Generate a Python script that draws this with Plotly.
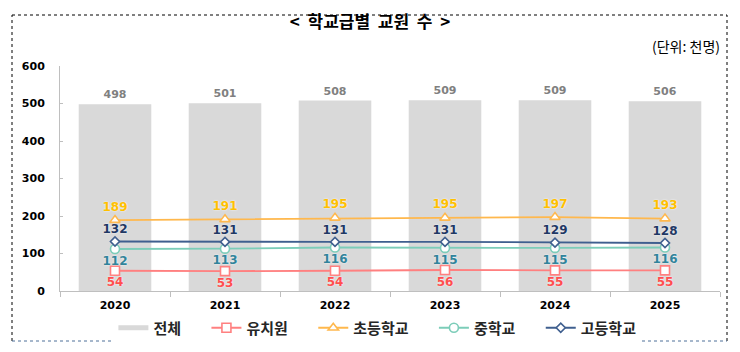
import plotly.graph_objects as go

years = ["2020", "2021", "2022", "2023", "2024", "2025"]
total = [498, 501, 508, 509, 509, 506]
kinder = [54, 53, 54, 56, 55, 55]
elem = [189, 191, 195, 195, 197, 193]
middle = [112, 113, 116, 115, 115, 116]
high = [132, 131, 131, 131, 129, 128]
y_ticks = [0, 100, 200, 300, 400, 500, 600]

FONT = "DejaVu Sans, Noto Sans CJK KR"
KFONT = "Noto Sans CJK KR"
HALO = "0px 0px 2px white"
PAD = "\u00a0" * 6

fig = go.Figure()

fig.add_trace(go.Bar(
    x=years, y=total, name="전체", showlegend=False,
    marker=dict(color="#d9d9d9", line=dict(width=0)),
    width=0.66,
    text=total, textposition="outside", cliponaxis=False,
    textfont=dict(family=FONT, size=11, color="#808080", weight="bold"),
))
# legend entry for bar (thin rectangle look)
fig.add_trace(go.Scatter(
    x=[None], y=[None], mode="lines", name="전체" + PAD,
    line=dict(color="#d9d9d9", width=5),
))

series = [
    ("유치원", kinder, "#FF8080", "#FF4F4F", "square", 9, "bottom center"),
    ("초등학교", elem, "#FFB84D", "#FFC000", "triangle-up", 9, "top center"),
    ("중학교", middle, "#7CCDB9", "#31849B", "circle", 9, "bottom center"),
    ("고등학교", high, "#3F5F8F", "#1F3864", "diamond", 7, "top center"),
]
for i, (name, vals, lc, tc, sym, ms, pos) in enumerate(series):
    fig.add_trace(go.Scatter(
        x=years, y=vals, name=name + (PAD if i < len(series) - 1 else ""),
        mode="lines+markers+text",
        line=dict(color=lc, width=1.8),
        marker=dict(symbol=sym, size=ms, color="white", line=dict(color=lc, width=1.6)),
        text=vals, textposition=pos, cliponaxis=False,
        textfont=dict(family=FONT, size=12, color=tc, weight="bold", shadow=HALO),
    ))

fig.update_layout(
    width=740, height=352,
    margin=dict(l=60, r=20, t=66, b=61, autoexpand=False),
    paper_bgcolor="white", plot_bgcolor="white",
    font=dict(family=FONT, color="#262626"),
    title=dict(text="<  학교급별  교원  수  >", x=0.5, xanchor="center",
               y=1 - 22 / 352, yanchor="middle",
               font=dict(family=KFONT, size=17, color="black", weight="bold")),
    showlegend=True,
    legend=dict(orientation="h", x=0.51, xanchor="center", xref="container",
                y=1 - 328 / 352, yanchor="middle", yref="container",
                font=dict(family=KFONT, size=15, color="#262626", weight="bold"),
                itemwidth=30, tracegroupgap=0),
    bargap=0.34,
)

fig.update_xaxes(
    type="category", showgrid=False, showline=True, linecolor="#bfbfbf", linewidth=1,
    ticks="outside", tickson="boundaries", ticklen=5, tickcolor="#bfbfbf",
    tickfont=dict(family=FONT, size=11, color="black", weight="bold"),
    ticklabelstandoff=4,
)
fig.update_yaxes(
    range=[0, 600], tickvals=y_ticks, showgrid=False, zeroline=False,
    showline=True, linecolor="#bfbfbf", linewidth=1,
    ticks="inside", ticklen=3, tickcolor="#bfbfbf",
    tickfont=dict(family=FONT, size=11, color="black", weight="bold"),
    ticklabelstandoff=12,
)

fig.add_annotation(text="(단위: 천명)", xref="paper", yref="paper",
                   x=(722 - 60) / 660, y=(291 - 46) / 225, xanchor="right", yanchor="middle",
                   showarrow=False,
                   font=dict(family=KFONT, size=14, color="black"))

# dotted frame
x0, x1 = (12 - 60) / 660, (727 - 60) / 660
y0, y1 = (291 - 341) / 225, (291 - 15) / 225
for (ax0, ay0, ax1, ay1, c) in [
    (x0, y1, x1, y1, "black"),
    (x0, y0, x0, y1, "black"),
    (x1, y0, x1, y1, "black"),
    (x0, y0, x1, y0, "#4F7199"),
]:
    fig.add_shape(type="line", xref="paper", yref="paper", x0=ax0, y0=ay0, x1=ax1, y1=ay1,
                  line=dict(color=c, width=1, dash="dot"), layer="above")

fig.write_html("out.html")
